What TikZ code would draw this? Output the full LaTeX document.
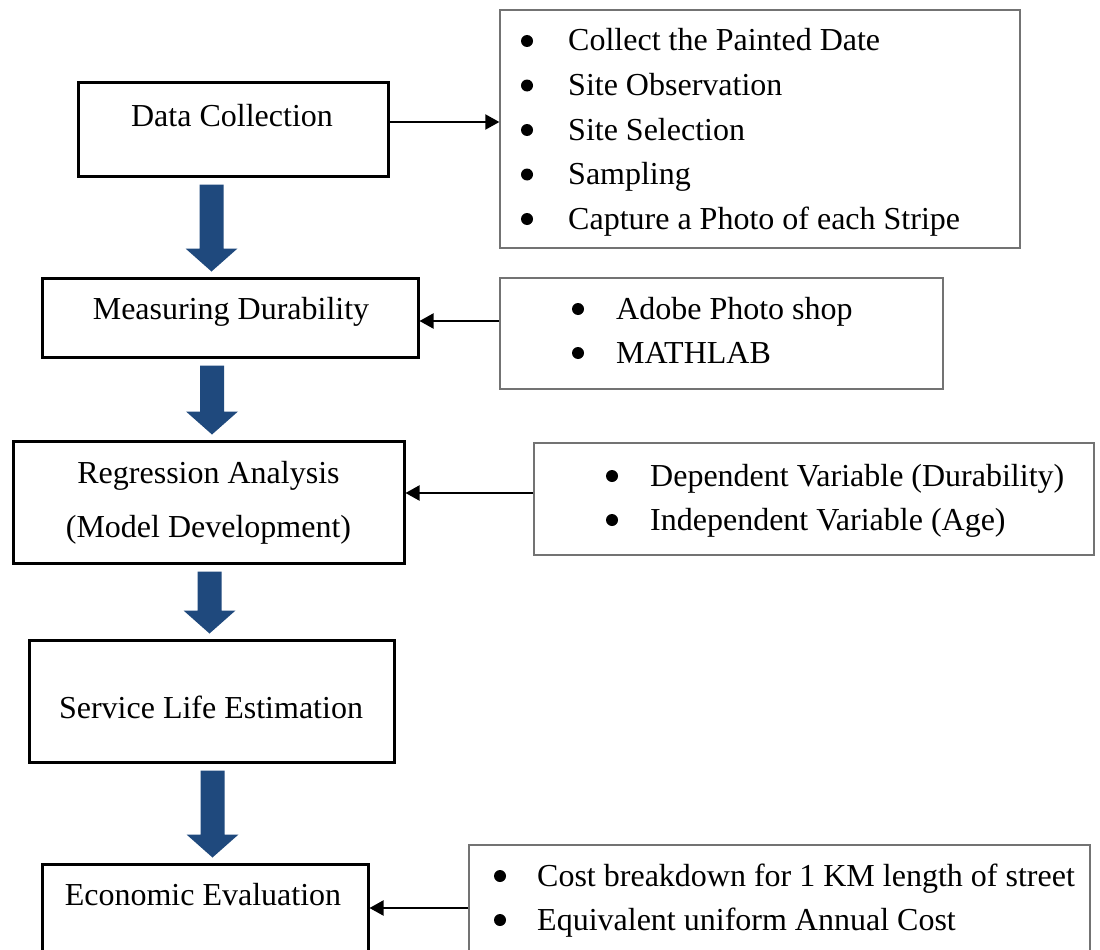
\documentclass[tikz,border=0pt]{standalone}
\usepackage{fontspec}
\setmainfont{Liberation Serif}
\usepackage{xcolor}
\usetikzlibrary{positioning,calc,arrows.meta}

\definecolor{flowblue}{RGB}{31,73,125}
\tikzset{
  stagebox/.style={draw=black,line width=3pt,inner sep=0pt},
  listbox/.style={draw=black!55,line width=1.3pt,inner sep=0pt},
  label/.style={font=\fontsize{32}{38}\selectfont,inner sep=0pt,anchor=base},
  item/.style={font=\fontsize{32}{38}\selectfont,inner sep=0pt,anchor=base west},
  link/.style={line width=2pt,-{Triangle[length=14pt,width=15pt]}}
}
% block arrow between two stages
\newcommand{\flowdown}[3]{%
  \fill[flowblue] let \p1=(#2.south), \p2=(#3.north) in
    (#1pt-12pt,\y1-7pt) -- (#1pt+12pt,\y1-7pt) -- (#1pt+12pt,\y2+28pt) -- (#1pt+26pt,\y2+28pt)
    -- (#1pt,\y2+5pt) -- (#1pt-26pt,\y2+28pt) -- (#1pt-12pt,\y2+28pt) -- cycle;}

\begin{document}
\begin{tikzpicture}[x=1pt,y=-1pt]
  \clip (0,0) rectangle (1100,950);
  \fill[white] (0,0) rectangle (1100,950);

  % Stages
  \node[stagebox,minimum width=310,minimum height=94] (dc) at (233,129) {};
  \node[label] (dct) at (232,126) {Data Collection};
  \node[stagebox,minimum width=376,minimum height=79] (md) at (230,317.5) {};
  \node[label] (mdt) at (231,319) {Measuring Durability};
  \node[stagebox,minimum width=391,minimum height=122] (ra) at (208.5,502) {};
  \node[label] (rat) at (208.5,483) {Regression Analysis};
  \node[label] (rat2) at (208.5,537) {(Model Development)};
  \node[stagebox,minimum width=365,minimum height=122] (sl) at (211.5,701) {};
  \node[label] (slt) at (211,718) {Service Life Estimation};
  \node[stagebox,minimum width=326,minimum height=160] (ee) at (205,944) {};
  \node[label] (eet) at (203,905) {Economic Evaluation};

  % Lists
  \node[listbox,minimum width=520,minimum height=238] (l1) at (760,129) {};
  \foreach \txt [count=\i] in {Collect the Painted Date, Site Observation, Site Selection,
      Sampling, Capture a Photo of each Stripe}{
    \node[item] (l1-\i) at (568,51+44.5*\i-44.5) {\txt};
    \fill (l1-\i.base west) ++(-41,-10) circle (6pt);}

  \node[listbox,minimum width=443,minimum height=111] (l2) at (721.5,333.5) {};
  \foreach \txt [count=\i] in {Adobe Photo shop, MATHLAB}{
    \node[item] (l2-\i) at (616,319+44*\i-44) {\txt};
    \fill (l2-\i.base west) ++(-38,-10) circle (6pt);}

  \node[listbox,minimum width=560,minimum height=112] (l3) at (814,499) {};
  \foreach \txt [count=\i] in {Dependent Variable (Durability), Independent Variable (Age)}{
    \node[item] (l3-\i) at (650,486+44*\i-44) {\txt};
    \fill (l3-\i.base west) ++(-38,-10) circle (6pt);}

  \node[listbox,minimum width=621,minimum height=160] (l4) at (779.5,925) {};
  \foreach \txt [count=\i] in {Cost breakdown for 1 KM length of street, Equivalent uniform Annual Cost}{
    \node[item] (l4-\i) at (537,886+44*\i-44) {\txt};
    \fill (l4-\i.base west) ++(-37,-10) circle (6pt);}

  % Connectors
  \draw[link] (dc.east |- 0,122) -- (l1.west |- 0,122);
  \draw[link] (l2.west |- 0,321) -- (md.east |- 0,321);
  \draw[link] (l3.west |- 0,493) -- (ra.east |- 0,493);
  \draw[link] (l4.west |- 0,908) -- (ee.east |- 0,908);

  \flowdown{211.5}{dc}{md}
  \flowdown{212}{md}{ra}
  \flowdown{209.5}{ra}{sl}
  \flowdown{212.5}{sl}{ee}
\end{tikzpicture}
\end{document}
